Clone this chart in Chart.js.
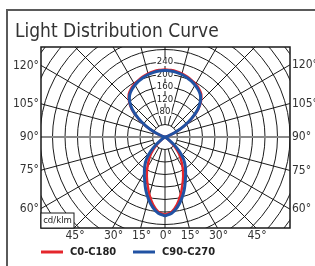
<!DOCTYPE html>
<html>
<head>
<meta charset="utf-8">
<script src="https://cdn.jsdelivr.net/npm/chart.js@4.4.1/dist/chart.umd.min.js"></script>
<style>
  html, body { margin: 0; background: #fff; }
  #wrap { width: 315px; height: 266px; position: relative; }
</style>
</head>
<body>
<div id="wrap"><canvas id="chartLdc"></canvas></div>
<script>
// gamma angles (deg, 0 = straight down) and intensities (cd/klm)
const gammaDeg = [0, 5, 10, 15, 20, 25, 30, 35, 40, 45, 50, 55, 60, 65, 70, 75, 80, 85, 90,
  95, 100, 105, 110, 115, 120, 125, 130, 135, 140, 145, 150, 155, 160, 165, 170, 175, 180];
const c0c180 = [249, 241, 220, 192, 163, 138, 113, 90, 69, 45, 22, 7, 1, 0, 0, 0, 0, 0, 0,
  0, 0, 3, 15, 40, 73, 107, 139, 163, 180, 189, 196, 201, 206, 210, 213, 215, 216];
const c90c270 = [252, 245, 228, 205, 180, 154, 132, 113, 92, 65, 35, 12, 3, 0, 0, 0, 0, 0, 0,
  0, 0, 3, 14, 38, 70, 104, 136, 160, 176, 185, 192, 198, 203, 207, 210, 212, 213];

const seriesNames = ['C0-C180', 'C90-C270'];
const seriesColors = ['#e4262c', '#2152a3'];
const ringValues = [40, 80, 120, 160, 200, 240, 280, 320, 360, 400, 440, 480];
const ringLabels = [80, 120, 160, 200, 240];
const radialStep = 15;

const NARROW = "'Liberation Sans Narrow', 'DejaVu Sans Condensed', sans-serif";

// polar -> cartesian, right half then mirrored left half, starting near the centre
function lobe(vals) {
  const pts = [];
  const rad = d => d * Math.PI / 180;
  const mid = gammaDeg.indexOf(90);
  for (let i = mid; i < gammaDeg.length; i++) {
    pts.push({ x: vals[i] * Math.sin(rad(gammaDeg[i])), y: -vals[i] * Math.cos(rad(gammaDeg[i])) });
  }
  for (let i = gammaDeg.length - 1; i >= 0; i--) {
    pts.push({ x: -vals[i] * Math.sin(rad(gammaDeg[i])), y: -vals[i] * Math.cos(rad(gammaDeg[i])) });
  }
  for (let i = 0; i <= mid; i++) {
    pts.push({ x: vals[i] * Math.sin(rad(gammaDeg[i])), y: -vals[i] * Math.cos(rad(gammaDeg[i])) });
  }
  return pts;
}

const polarGrid = {
  id: 'polarGrid',
  beforeDraw(chart) {
    const ctx = chart.ctx;
    ctx.save();
    ctx.strokeStyle = '#5a5a5a';
    ctx.lineWidth = 2;
    ctx.beginPath();
    ctx.moveTo(7, 266);
    ctx.lineTo(7, 10);
    ctx.lineTo(315, 10);
    ctx.stroke();
    ctx.fillStyle = '#333';
    ctx.font = '19px ' + NARROW;
    ctx.textBaseline = 'alphabetic';
    ctx.fillText('Light Distribution Curve', 15, 37);
    ctx.restore();
  },
  beforeDatasetsDraw(chart) {
    const { ctx, chartArea: a, scales: { x, y } } = chart;
    const cx = x.getPixelForValue(0), cy = y.getPixelForValue(0);
    const pr = v => x.getPixelForValue(v) - cx;
    ctx.save();
    ctx.beginPath();
    ctx.rect(a.left, a.top, a.right - a.left, a.bottom - a.top);
    ctx.clip();
    ctx.strokeStyle = '#1a1a1a';
    ctx.lineWidth = 1;
    ringValues.forEach(v => {
      ctx.beginPath();
      ctx.arc(cx, cy, pr(v), 0, Math.PI * 2);
      ctx.stroke();
    });
    for (let d = 0; d < 360; d += radialStep) {
      if (d === 90 || d === 270) continue;
      const r0 = pr(ringValues[0]), r1 = pr(1000);
      const sx = Math.sin(d * Math.PI / 180), sy = Math.cos(d * Math.PI / 180);
      ctx.beginPath();
      ctx.moveTo(cx + r0 * sx, cy + r0 * sy);
      ctx.lineTo(cx + r1 * sx, cy + r1 * sy);
      ctx.stroke();
    }
    ctx.strokeStyle = '#8a8a8a';
    ctx.lineWidth = 2;
    ctx.beginPath();
    ctx.moveTo(a.left, cy);
    ctx.lineTo(a.right, cy);
    ctx.stroke();
    // ring values on the upper axis
    ctx.font = '9.5px ' + NARROW;
    ctx.textAlign = 'center';
    ctx.textBaseline = 'middle';
    ringLabels.forEach(v => {
      const py = y.getPixelForValue(v);
      const w = ctx.measureText(String(v)).width;
      ctx.fillStyle = '#fff';
      ctx.fillRect(cx - w / 2 - 1, py - 4, w + 2, 8);
      ctx.fillStyle = '#222';
      ctx.fillText(String(v), cx, py);
    });
    ctx.restore();
  },
  afterDatasetsDraw(chart) {
    const { ctx, chartArea: a } = chart;
    ctx.save();
    ctx.strokeStyle = '#1a1a1a';
    ctx.lineWidth = 1.5;
    ctx.strokeRect(a.left, a.top, a.right - a.left, a.bottom - a.top);
    // unit box
    ctx.fillStyle = '#fff';
    ctx.fillRect(a.left, a.bottom - 15, 33, 15);
    ctx.lineWidth = 1;
    ctx.strokeRect(a.left, a.bottom - 15, 33, 15);
    ctx.fillStyle = '#222';
    ctx.font = '9.5px ' + NARROW;
    ctx.textAlign = 'center';
    ctx.textBaseline = 'middle';
    ctx.fillText('cd/klm', a.left + 16.5, a.bottom - 7);
    ctx.restore();
  },
  afterDraw(chart) {
    const { ctx, chartArea: a, scales: { x, y } } = chart;
    const cx = x.getPixelForValue(0), cy = y.getPixelForValue(0);
    ctx.save();
    ctx.fillStyle = '#333';
    ctx.font = '12px ' + NARROW;
    ctx.textBaseline = 'middle';
    [1, -1].forEach(side => {
      for (let d = 0; d <= 180; d += radialStep) {
        if (d === 0 && side < 0) continue;
        const dx = side * Math.sin(d * Math.PI / 180), dy = Math.cos(d * Math.PI / 180);
        const tx = Math.abs(dx) > 1e-9 ? (side > 0 ? a.right - cx : cx - a.left) / Math.abs(dx) : Infinity;
        const ty = dy > 1e-9 ? (a.bottom - cy) / dy : (dy < -1e-9 ? (cy - a.top) / -dy : Infinity);
        if (ty < tx && dy < 0) continue; // top edge: no label
        if (ty < tx) {
          ctx.textAlign = 'center';
          ctx.fillText(d + '°', cx + dx * ty + 1, a.bottom + 8);
        } else {
          ctx.textAlign = side > 0 ? 'left' : 'right';
          ctx.fillText(d + '°', side > 0 ? a.right + 2 : a.left - 2, cy + dy * tx);
        }
      }
    });
    // legend
    ctx.lineWidth = 3;
    ctx.font = 'bold 11px ' + NARROW;
    ctx.textAlign = 'left';
    const legX = [41, 133];
    seriesNames.forEach((name, i) => {
      ctx.strokeStyle = seriesColors[i];
      ctx.beginPath();
      ctx.moveTo(legX[i], 252);
      ctx.lineTo(legX[i] + 22, 252);
      ctx.stroke();
      ctx.fillStyle = '#222';
      ctx.fillText(name, legX[i] + 29, 252);
    });
    ctx.restore();
  }
};

new Chart(document.getElementById('chartLdc'), {
  type: 'scatter',
  data: {
    datasets: [
      { label: seriesNames[0], data: lobe(c0c180), borderColor: seriesColors[0], borderWidth: 2.5, order: 2 },
      { label: seriesNames[1], data: lobe(c90c270), borderColor: seriesColors[1], borderWidth: 3, order: 1 }
    ].map(ds => Object.assign(ds, { showLine: true, pointRadius: 0, tension: 0.3, fill: false }))
  },
  options: {
    responsive: true,
    maintainAspectRatio: false,
    animation: false,
    layout: { padding: { left: 41, top: 47, right: 25, bottom: 38 } },
    plugins: { legend: { display: false }, title: { display: false }, tooltip: { enabled: false } },
    scales: {
      x: { type: 'linear', display: false, min: -396.8, max: 400 },
      y: { type: 'linear', display: false, min: -291.2, max: 288 }
    }
  },
  plugins: [polarGrid]
});
</script>
</body>
</html>
